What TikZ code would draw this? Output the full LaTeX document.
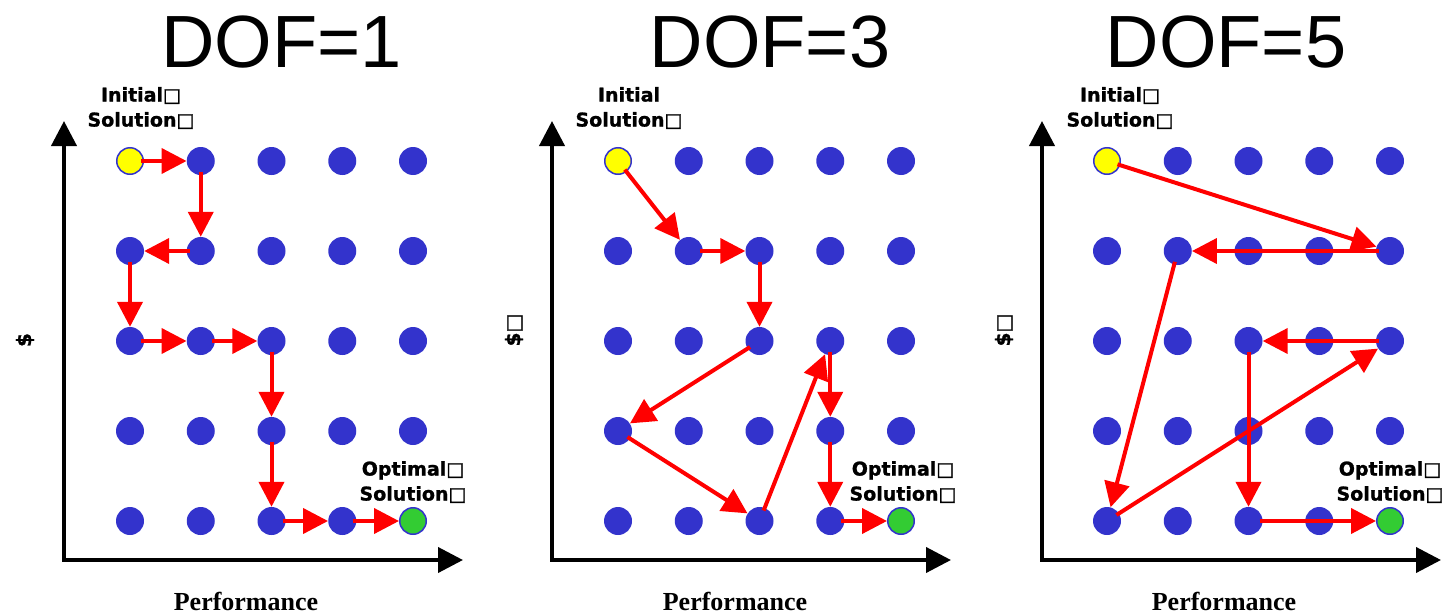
\documentclass[tikz,border=0pt]{standalone}
\usepackage{fontspec}
\usetikzlibrary{arrows.meta}
\newfontfamily\lblfont{DejaVu Sans}[BoldFeatures={FakeBold=1.2}]
\newfontfamily\titlefont{Liberation Sans}
\newfontfamily\perffont{Liberation Serif}
\definecolor{dotblue}{HTML}{3333CC}
\definecolor{startyellow}{HTML}{FFFF00}
\definecolor{goalgreen}{HTML}{33CC33}
\definecolor{pathred}{HTML}{FF0000}
\tikzset{
  dot/.style={circle,fill=dotblue,draw=none,minimum size=28pt,inner sep=0pt},
  start/.style={circle,fill=startyellow,draw=dotblue,line width=1.5pt,minimum size=26.5pt,inner sep=0pt},
  goal/.style={circle,fill=goalgreen,draw=dotblue,line width=1.5pt,minimum size=26.5pt,inner sep=0pt},
  move/.style={draw=pathred,line width=4pt,-{Triangle[length=25pt,width=25pt]},shorten <=-3pt},
  axis/.style={draw=black,line width=4pt,-{Triangle[length=25pt,width=25pt]}},
  title/.style={font=\titlefont\fontsize{74}{80}\selectfont,inner sep=0pt},
  lbl/.style={font=\lblfont\bfseries\fontsize{19}{25}\selectfont,align=center,inner sep=0pt},
  perf/.style={font=\perffont\bfseries\fontsize{26}{30}\selectfont,inner sep=0pt},
  ylbl/.style={font=\lblfont\bfseries\fontsize{20}{22}\selectfont,rotate=90,inner sep=0pt}
}
\begin{document}
\begin{tikzpicture}[x=1pt,y=-1pt]
\useasboundingbox (0,0) rectangle (1445,613);
% titles
\node[title] (t1) at (281.5,42) {DOF=1};
\node[title] (t2) at (770,42) {DOF=3};
\node[title] (t3) at (1226,42) {DOF=5};
% grids
\foreach \p/\ox in {1/130,2/618,3/1107}{
  \foreach \c in {0,...,4}{
    \foreach \r in {0,...,4}{
      \ifnum\c\r=0 \def\st{start}\else\ifnum\c\r=44 \def\st{goal}\else\def\st{dot}\fi\fi
      \node[\st] (p\p-\c-\r) at ({\ox+70.75*\c},{161+90*\r}) {};
    }
  }
}
% axes
\foreach \p/\ax in {1/64,2/552,3/1042}{
  \coordinate (o\p) at (\ax,560);
  \coordinate (yt\p) at (\ax,121);
  \coordinate (xt\p) at ({\ax+399},560);
  \draw[axis] (o\p) -- (yt\p);
  \draw[axis] ([xshift=-2pt]o\p) -- (xt\p);
}
% axis labels
\node[perf] (x1) at (246,601) {Performance};
\node[perf] (x2) at (735,601) {Performance};
\node[perf] (x3) at (1224,601) {Performance};
\node[ylbl] (y1) at (25,340) {\$};
\node[ylbl] (y2) at (514,330) {\$□};
\node[ylbl] (y3) at (1004,330) {\$□};
% start / goal labels
\node[lbl] (s1) at (141,108) {Initial□\\Solution□};
\node[lbl] (s2) at (629,108) {Initial\\Solution□};
\node[lbl] (s3) at (1120,108) {Initial□\\Solution□};
\node[lbl] (g1) at (413,482) {Optimal□\\Solution□};
\node[lbl] (g2) at (903,482) {Optimal□\\Solution□};
\node[lbl] (g3) at (1390,482) {Optimal□\\Solution□};
% paths panel 1
\draw[move] (p1-0-0) -- (p1-1-0);
\draw[move] (p1-1-0) -- (p1-1-1);
\draw[move] (p1-1-1) -- (p1-0-1);
\draw[move] (p1-0-1) -- (p1-0-2);
\draw[move] (p1-0-2) -- (p1-1-2);
\draw[move] (p1-1-2) -- (p1-2-2);
\draw[move] (p1-2-2) -- (p1-2-3);
\draw[move] (p1-2-3) -- (p1-2-4);
\draw[move] (p1-2-4) -- (p1-3-4);
\draw[move] (p1-3-4) -- (p1-4-4);
% paths panel 2
\draw[move] (p2-0-0) -- (p2-1-1);
\draw[move] (p2-1-1) -- (p2-2-1);
\draw[move] (p2-2-1) -- (p2-2-2);
\draw[move] (p2-2-2) -- (p2-0-3);
\draw[move] (p2-0-3) -- (p2-2-4);
\draw[move] (p2-2-4) -- (p2-3-2);
\draw[move] (p2-3-2) -- (p2-3-3);
\draw[move] (p2-3-3) -- (p2-3-4);
\draw[move] (p2-3-4) -- (p2-4-4);
% paths panel 3
\draw[move] (p3-0-0) -- (p3-4-1);
\draw[move] (p3-4-1) -- (p3-1-1);
\draw[move] (p3-1-1) -- (p3-0-4);
\draw[move] (p3-0-4) -- (p3-4-2);
\draw[move] (p3-4-2) -- (p3-2-2);
\draw[move] (p3-2-2) -- (p3-2-4);
\draw[move] (p3-2-4) -- (p3-4-4);
\end{tikzpicture}
\end{document}
